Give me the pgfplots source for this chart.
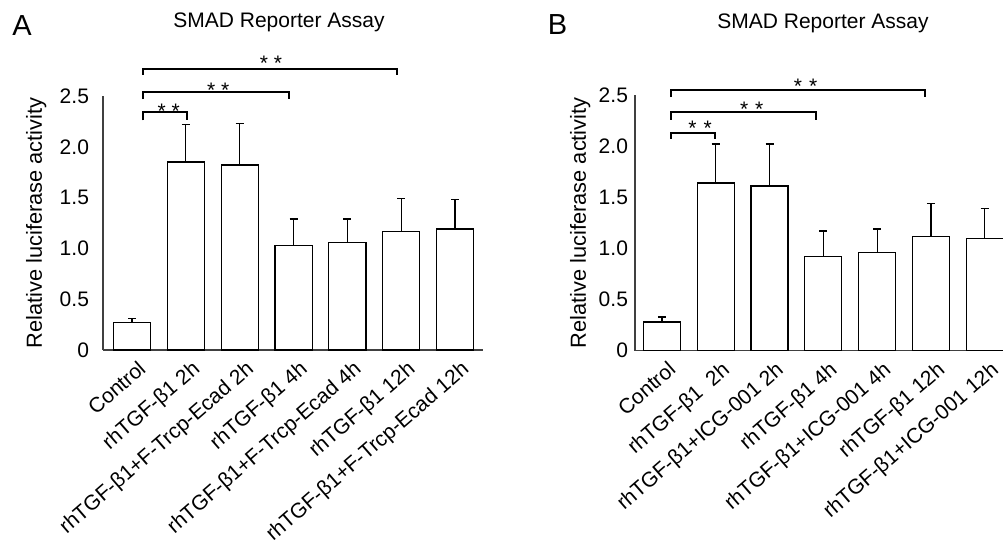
\documentclass[border=0pt]{standalone}
\usepackage{fontspec}
\setmainfont{Liberation Sans}
\usepackage{pgfplots}
\pgfplotsset{compat=1.18}
\newcommand\lf{\fontsize{10.5}{12.6}\selectfont}

\pgfplotsset{
  smad/.style={
    scale only axis, clip=false,
    ymin=0, ymax=2.5,
    axis x line=bottom, axis y line=left,
    axis line style={-, line width=0.6pt, black!75},
    ytick={0,0.5,1,1.5,2,2.5},
    yticklabels={0,0.5,1.0,1.5,2.0,2.5},
    xtick={0,...,6},
    major tick length=0pt,
    tick style={draw=none},
    every tick label/.append style={font=\lf},
    label style={font=\fontsize{10.9}{13}\selectfont},
    xticklabel style={xshift=2.5pt, yshift=-4.5pt, rotate=41, anchor=north east, inner sep=0pt},
    ylabel={Relative luciferase activity},
    ybar, bar width=0.69,
  },
  smadbars/.style={fill=white, draw=black, line width=0.6pt,
    error bars/.cd, y dir=plus, y explicit,
    error bar style={line width=0.6pt, black},
    error mark options={rotate=90, black, mark size=2pt, line width=0.6pt}},
}
\tikzset{
  bracket/.style={line width=1pt, black},
  stars/.style={font=\lf, inner sep=0pt, yshift=-2.5pt},
}

\begin{document}
\begin{tikzpicture}
\useasboundingbox (0,0) rectangle (501.5pt,272.5pt);

% panel A
\node[font=\fontsize{14.5}{16}\selectfont] at (11pt,259.75pt) {A};
\node[font=\lf] at (139.5pt,261.5pt) {SMAD Reporter Assay};
\begin{axis}[smad,
  at={(51.5pt,97.5pt)}, anchor=south west,
  width=190pt, height=127pt,
  xmin=-0.54, xmax=6.52,
  yticklabel style={xshift=-3.5pt},
  ylabel style={at={(axis description cs:-0.176,0.5)}, anchor=center},
  xticklabels={Control, rhTGF-β1 2h, rhTGF-β1+F-Trcp-Ecad 2h, rhTGF-β1 4h,
    rhTGF-β1+F-Trcp-Ecad 4h, rhTGF-β1 12h, rhTGF-β1+F-Trcp-Ecad 12h},
]
\addplot[smadbars] coordinates {
  (0,0.27) +- (0,0.04)
  (1,1.85) +- (0,0.37)
  (2,1.82) +- (0,0.41)
  (3,1.03) +- (0,0.26)
  (4,1.06) +- (0,0.23)
  (5,1.17) +- (0,0.32)
  (6,1.19) +- (0,0.29)};
% significance brackets
\draw[bracket] (axis cs:0.2,2.26) -- (axis cs:0.2,2.34) -- (axis cs:1.02,2.34) -- (axis cs:1.02,2.26);
\node[stars] at (axis cs:0.68,2.40) {* *};
\draw[bracket] (axis cs:0.2,2.47) -- (axis cs:0.2,2.54) -- (axis cs:2.92,2.54) -- (axis cs:2.92,2.47);
\node[stars] at (axis cs:1.6,2.61) {* *};
\draw[bracket] (axis cs:0.2,2.71) -- (axis cs:0.2,2.77) -- (axis cs:4.93,2.77) -- (axis cs:4.93,2.71);
\node[stars] at (axis cs:2.58,2.87) {* *};
\end{axis}

% panel B
\node[font=\fontsize{14.5}{16}\selectfont] at (278.75pt,260pt) {B};
\node[font=\lf] at (411.5pt,261pt) {SMAD Reporter Assay};
\begin{axis}[smad,
  at={(317.5pt,97.15pt)}, anchor=south west,
  width=184pt, height=127.85pt,
  xmin=-0.5, xmax=6.34,
  yticklabel style={xshift=0pt},
  ylabel style={at={(axis description cs:-0.149,0.5)}, anchor=center},
  xticklabels={Control, rhTGF-β1\ \ 2h, rhTGF-β1+ICG-001 2h, rhTGF-β1 4h,
    rhTGF-β1+ICG-001 4h, rhTGF-β1 12h, rhTGF-β1+ICG-001 12h},
]
\addplot[smadbars] coordinates {
  (0,0.28) +- (0,0.05)
  (1,1.64) +- (0,0.38)
  (2,1.61) +- (0,0.41)
  (3,0.92) +- (0,0.25)
  (4,0.96) +- (0,0.23)
  (5,1.12) +- (0,0.32)
  (6,1.10) +- (0,0.29)};
\draw[bracket] (axis cs:0.17,2.07) -- (axis cs:0.17,2.13) -- (axis cs:0.99,2.13) -- (axis cs:0.99,2.07);
\node[stars] at (axis cs:0.71,2.22) {*\,\,*};
\draw[bracket] (axis cs:0.17,2.26) -- (axis cs:0.17,2.33) -- (axis cs:2.87,2.33) -- (axis cs:2.87,2.26);
\node[stars] at (axis cs:1.67,2.41) {*\,\,*};
\draw[bracket] (axis cs:0.17,2.48) -- (axis cs:0.17,2.55) -- (axis cs:4.89,2.55) -- (axis cs:4.89,2.48);
\node[stars] at (axis cs:2.67,2.63) {*\,\,*};
\end{axis}
\end{tikzpicture}
\end{document}
